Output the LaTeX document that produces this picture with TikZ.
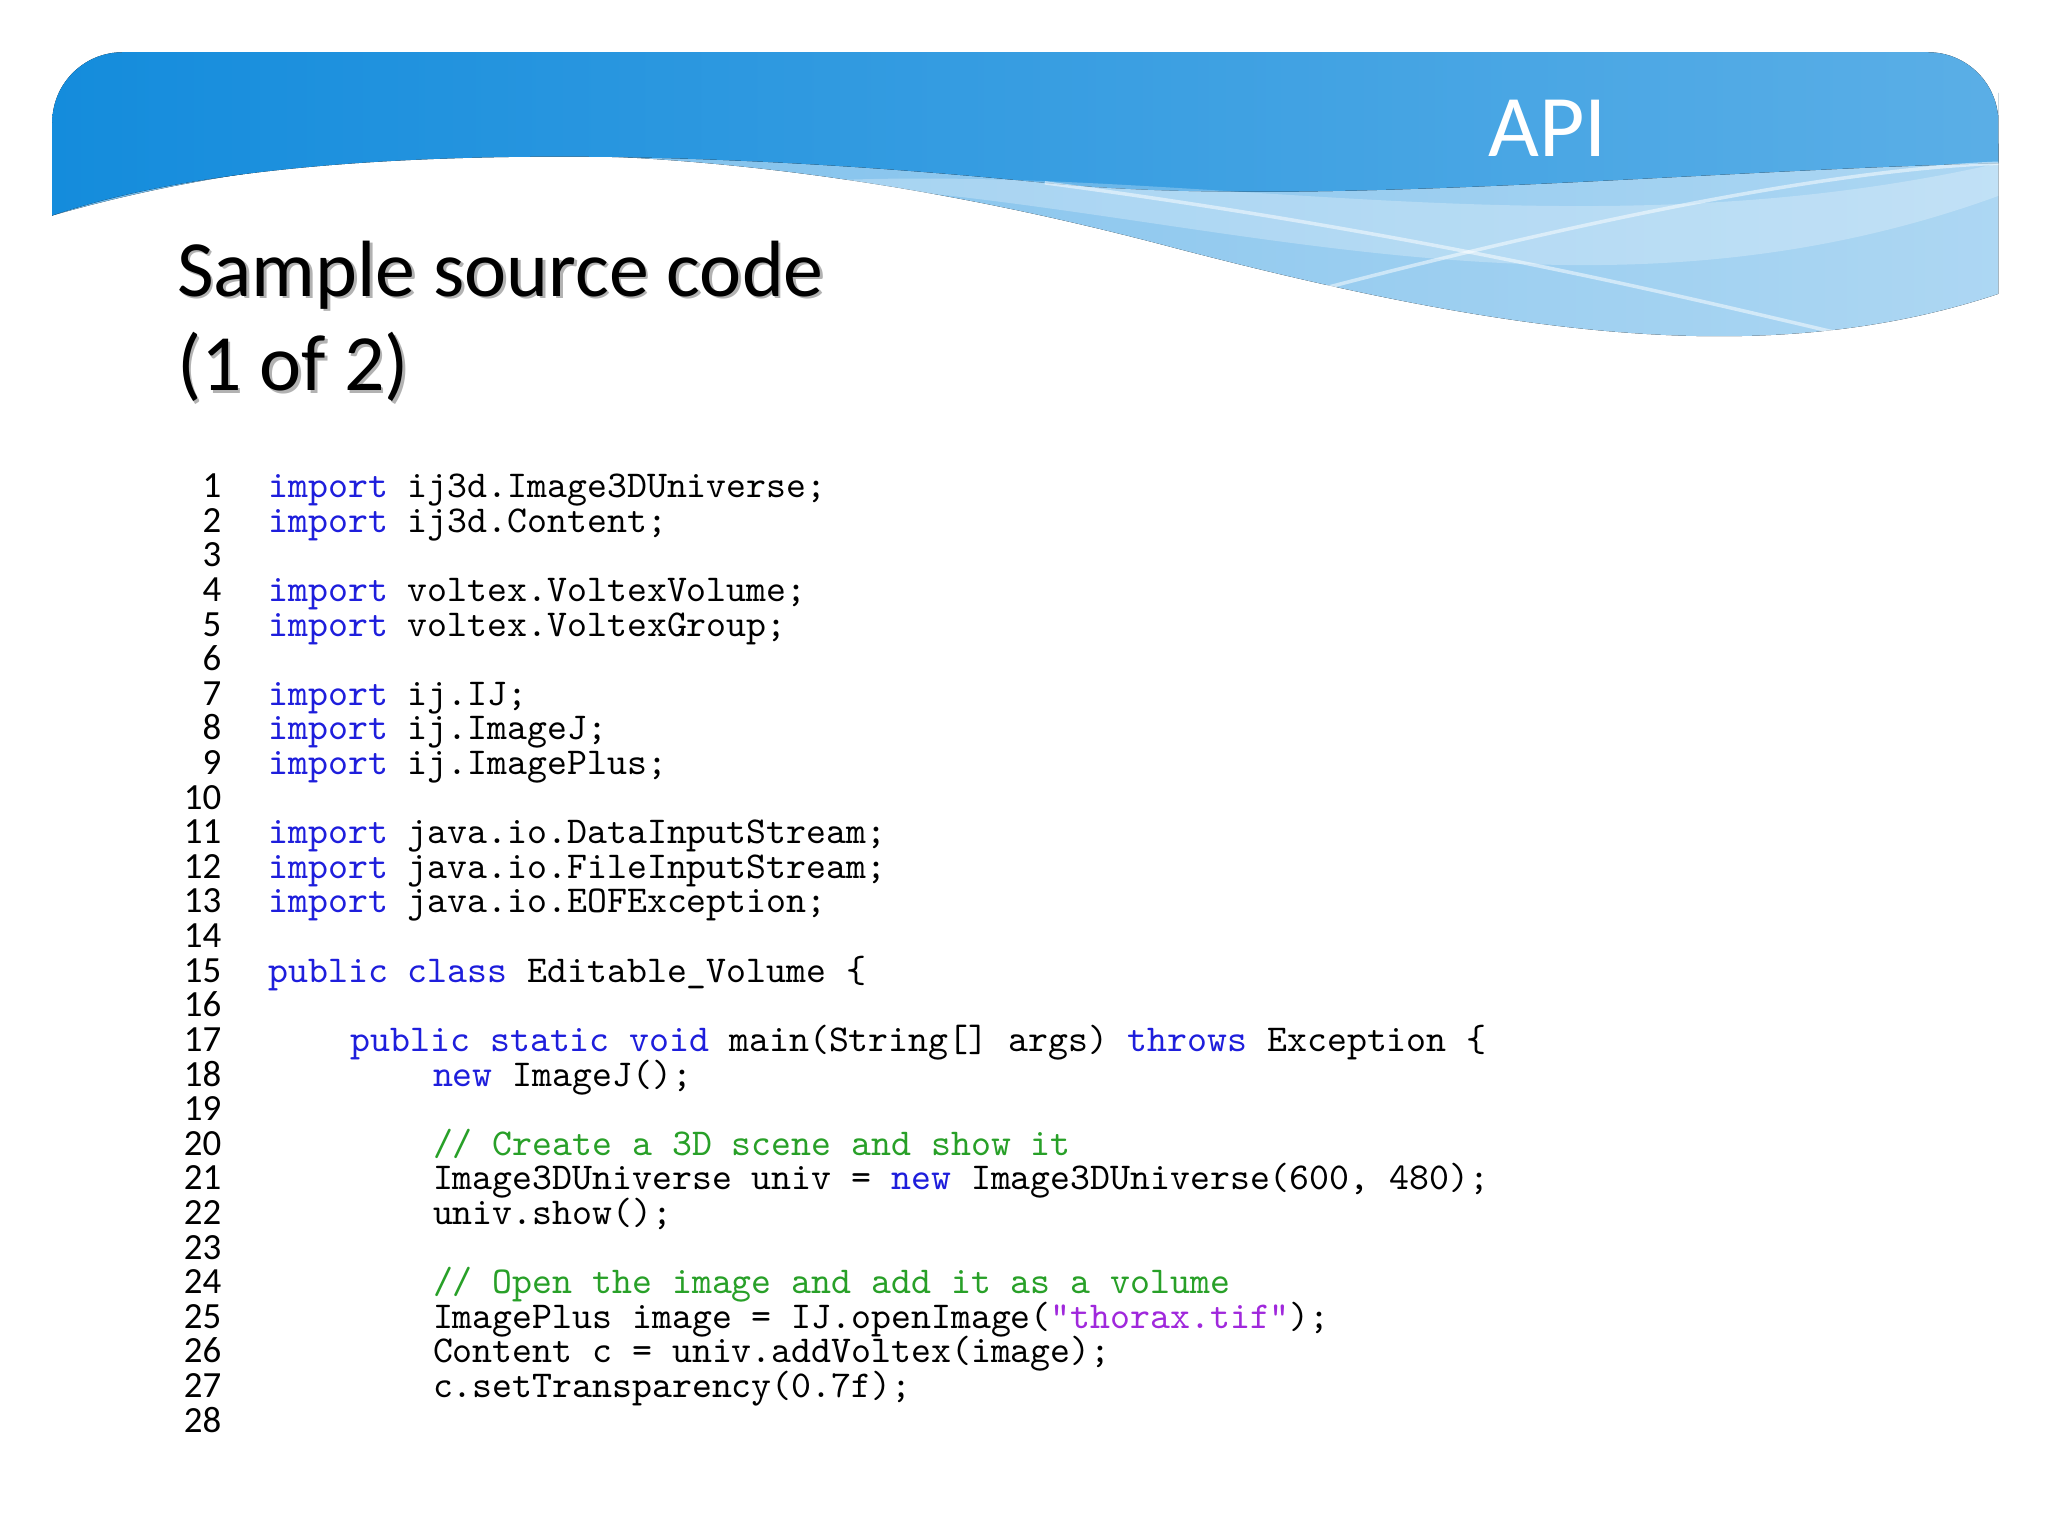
\documentclass[tikz,border=0pt]{standalone}
\usepackage{fontspec}
\setmainfont{Carlito}
\setmonofont{Latin Modern Mono}
\definecolor{kw}{RGB}{30,30,220}
\definecolor{cm}{RGB}{40,160,40}
\definecolor{st}{RGB}{160,40,220}
\definecolor{hdr}{RGB}{20,140,220}
\begin{document}
\begin{tikzpicture}[x=0.01306cm,y=-0.01306cm,
  code/.style={anchor=base west,inner sep=0,font=\ttfamily\fontsize{10.8}{12}\selectfont},
  num/.style={anchor=base east,inner sep=0,font=\rmfamily\fontsize{10.5}{12}\selectfont}]
\useasboundingbox (0,0) rectangle (1568,1176);
\fill[white] (0,0) rectangle (1568,1176);
% header layers
\fill[left color=hdr!60!white, right color=hdr!35!white]
  (40,165) .. controls (300,90) and (600,110) .. (900,190) .. controls (1150,255) and (1350,285) .. (1530,225) -- (1530,110) -- (40,110) -- cycle;
\fill[left color=hdr, right color=hdr!70!white, rounded corners=20]
  (40,165) -- (40,40) -- (1530,40) -- (1530,125) [sharp corners]-- (1530,125) .. controls (1300,130) and (1000,160) .. (800,140) .. controls (500,110) and (200,110) .. (40,165);
\fill[white,opacity=.25] (600,140) .. controls (900,150) and (1200,270) .. (1530,150) -- (1530,125) .. controls (1200,200) and (900,120) .. (600,140);
\draw[white,opacity=.5,line width=1] (960,235) .. controls (1200,170) and (1400,130) .. (1530,125);
\draw[white,opacity=.5,line width=1] (800,140) .. controls (1100,180) and (1300,230) .. (1420,258);
\node[white,font=\fontsize{25}{30}\selectfont] (api) at (1185,98) {API};
\node[anchor=west,inner sep=0,text=gray!60,font=\fontsize{22.7}{27}\selectfont,align=left] at (137,248) {Sample source code\\(1 of 2)};
\node[anchor=west,inner sep=0,font=\fontsize{22.7}{27}\selectfont,align=left] (title) at (135,246) {Sample source code\\(1 of 2)};
% code
\foreach \i in {1,...,28} \node[num] (n\i) at (170,{374+(\i-1)*26.5+7}) {\i};
\def\L#1#2#3{\node[code] at (#1,{374+(#2-1)*26.5+7}) {#3};}
\L{205}{1}{\textcolor{kw}{import} ij3d.Image3DUniverse;}
\L{205}{2}{\textcolor{kw}{import} ij3d.Content;}
\L{205}{4}{\textcolor{kw}{import} voltex.VoltexVolume;}
\L{205}{5}{\textcolor{kw}{import} voltex.VoltexGroup;}
\L{205}{7}{\textcolor{kw}{import} ij.IJ;}
\L{205}{8}{\textcolor{kw}{import} ij.ImageJ;}
\L{205}{9}{\textcolor{kw}{import} ij.ImagePlus;}
\L{205}{11}{\textcolor{kw}{import} java.io.DataInputStream;}
\L{205}{12}{\textcolor{kw}{import} java.io.FileInputStream;}
\L{205}{13}{\textcolor{kw}{import} java.io.EOFException;}
\L{205}{15}{\textcolor{kw}{public class} Editable\_Volume \{}
\L{268}{17}{\textcolor{kw}{public static void} main(String[] args) \textcolor{kw}{throws} Exception \{}
\L{331}{18}{\textcolor{kw}{new} ImageJ();}
\L{331}{20}{\textcolor{cm}{// Create a 3D scene and show it}}
\L{331}{21}{Image3DUniverse univ = \textcolor{kw}{new} Image3DUniverse(600, 480);}
\L{331}{22}{univ.show();}
\L{331}{24}{\textcolor{cm}{// Open the image and add it as a volume}}
\L{331}{25}{ImagePlus image = IJ.openImage(\textcolor{st}{"thorax.tif"});}
\L{331}{26}{Content c = univ.addVoltex(image);}
\L{331}{27}{c.setTransparency(0.7f);}
\end{tikzpicture}
\end{document}
